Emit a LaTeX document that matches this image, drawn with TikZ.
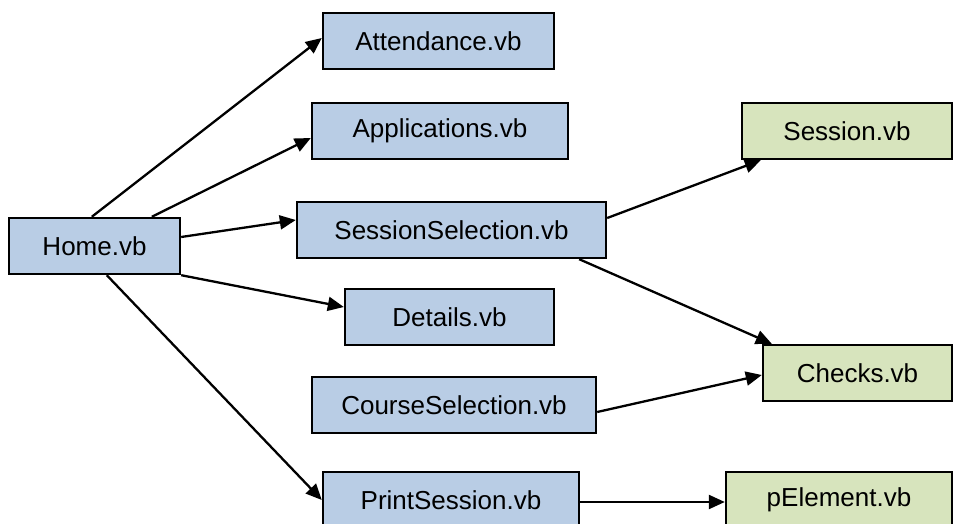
\documentclass[tikz,border=0pt]{standalone}
\usepackage{fontspec}
\setmainfont{Liberation Sans}
\usetikzlibrary{arrows.meta}
\definecolor{boxblue}{HTML}{B9CDE5}
\definecolor{boxgreen}{HTML}{D7E4BD}
\begin{document}
\begin{tikzpicture}[x=1pt,y=-1pt,
  filebox/.style={draw=black,line width=2.4pt,minimum height=56pt,inner sep=0pt,
    font=\fontsize{26}{30}\selectfont,text=black},
  bluebox/.style={filebox,fill=boxblue},
  greenbox/.style={filebox,fill=boxgreen},
  conn/.style={line width=2.3pt,-{Triangle[length=16pt,width=14pt]}}]
\clip (0,0) rectangle (956,524);
\fill[white] (0,0) rectangle (956,524);
\node[bluebox,minimum width=171pt] (home) at (94.5,246) {Home.vb};
\node[bluebox,minimum width=231pt] (att) at (438.5,41) {Attendance.vb};
\node[bluebox,minimum width=256pt] (app) at (440,131) {Applications.vb};
\node[bluebox,minimum width=309pt] (ss) at (451.5,230) {SessionSelection.vb};
\node[bluebox,minimum width=209pt] (det) at (449.5,317) {Details.vb};
\node[bluebox,minimum width=284pt] (cs) at (454,405) {CourseSelection.vb};
\node[bluebox,minimum width=256pt] (ps) at (451,500) {PrintSession.vb};
\node[greenbox,minimum width=210pt] (ses) at (847,131) {Session.vb};
\node[greenbox,minimum width=189pt] (chk) at (857.5,373) {Checks.vb};
\node[greenbox,minimum width=226pt] (pel) at (839,500) {pElement.vb};
\draw[conn] ([xshift=84pt]home.north west) -- ([yshift=3pt]att.west);
\draw[conn] ([xshift=144pt]home.north west) -- ([yshift=-7pt]app.west);
\draw[conn] ([yshift=9pt]home.east) -- ([yshift=10pt]ss.west);
\draw[conn] (home.south east) -- ([yshift=10pt]det.west);
\draw[conn] ([xshift=99pt]home.south west) -- (ps.west);
\draw[conn] ([yshift=12pt]ss.east) -- ([xshift=20pt]ses.south west);
\draw[conn] ([xshift=-28pt]ss.south east) -- ([xshift=10pt]chk.north west);
\draw[conn] ([yshift=-7pt]cs.east) -- ([yshift=-2pt]chk.west);
\draw[conn] ([yshift=-2pt]ps.east) -- ([yshift=-2pt]pel.west);
\end{tikzpicture}
\end{document}
